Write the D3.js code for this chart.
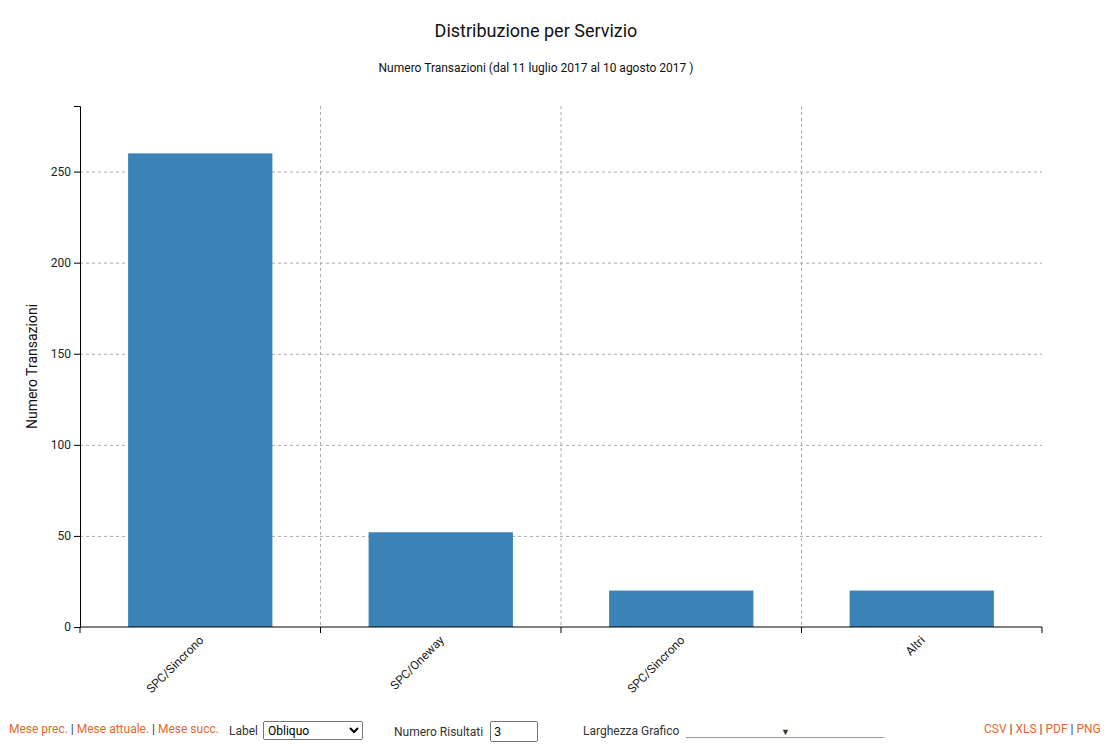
<!DOCTYPE html>
<html>
<meta charset="UTF-8">
<head>
<style>
body { margin:0; font-family: Roboto, sans-serif; background:#fff; }
.grid line { stroke:#aaa; stroke-dasharray:3,3; }
.grid .domain { display:none; }
.ctl { position:absolute; top:722px; font-size:12px; color:#333; }
.ctl a { color:#e8662a; text-decoration:none; }
</style>
</head>
<body>
<svg id="chart" width="1113" height="705"></svg>
<div class="ctl" style="left:9px"><a>Mese prec.</a> | <a>Mese attuale.</a> | <a>Mese succ.</a></div>
<div class="ctl" style="left:229px;top:721px">Label <select style="width:100px;height:19px;font-size:12px;font-family:Roboto;margin-left:2px"><option>Obliquo</option></select></div>
<div class="ctl" style="left:394px;top:721px">Numero Risultati <input type="number" value="3" style="width:40px;height:15px;font-size:12px;margin-left:4px"></div>
<div class="ctl" style="left:583px;top:724px">Larghezza Grafico <span style="display:inline-block;width:198px;border-bottom:1px solid #999;margin-left:4px;text-align:center;font-size:9px">&#9660;</span></div>
<div class="ctl" style="left:984px"><a>CSV</a> | <a>XLS</a> | <a>PDF</a> | <a>PNG</a></div>
<script src="https://d3js.org/d3.v7.min.js"></script>
<script>
const categories = ["SPC/Sincrono", "SPC/Oneway", "SPC/Sincrono ", "Altri"];
const values = [260, 52, 20, 20];
const yTicks = [0, 50, 100, 150, 200, 250];

const svg = d3.select("#chart");
const mLeft = 80, mRight = 1042, mTop = 106, mBottom = 627;

const x = d3.scaleBand().domain(categories).range([mLeft, mRight]).paddingInner(0.4).paddingOuter(0.2);
const y = d3.scaleLinear().domain([0, 286]).range([mBottom, mTop]);

// grid
svg.append("g").attr("class", "grid").attr("transform", `translate(${mLeft},0)`)
  .call(d3.axisLeft(y).tickValues(yTicks.slice(1)).tickSize(-(mRight - mLeft)).tickFormat(""));
const bounds = d3.range(1, categories.length).map(i => mLeft + i * (mRight - mLeft) / categories.length);
svg.append("g").attr("class", "grid").selectAll("line").data(bounds).join("line")
  .attr("x1", d => d).attr("x2", d => d).attr("y1", mTop).attr("y2", mBottom);

svg.append("g").selectAll("rect").data(values).join("rect")
  .attr("x", (d, i) => x(categories[i])).attr("width", x.bandwidth())
  .attr("y", d => y(d)).attr("height", d => mBottom - y(d)).attr("fill", "#3b82b6");

// y axis
svg.append("g").attr("transform", `translate(${mLeft},0)`)
  .call(d3.axisLeft(y).tickValues(yTicks).tickSizeOuter(6))
  .call(g => g.selectAll("text").attr("font-size", 12).attr("font-family", "Roboto").attr("fill", "#222"));

// x axis
const xa = svg.append("g").attr("transform", `translate(0,${mBottom})`);
xa.append("line").attr("x1", mLeft).attr("x2", mRight).attr("stroke", "#000");
xa.selectAll(".tk").data([mLeft, ...bounds, mRight]).join("line")
  .attr("x1", d => d).attr("x2", d => d).attr("y2", 6).attr("stroke", "#000");
xa.selectAll("text").data(categories).join("text")
  .attr("transform", d => `translate(${x(d) + x.bandwidth() / 2 + 4},${14}) rotate(-45)`)
  .attr("text-anchor", "end").attr("font-size", 12).attr("font-family", "Roboto").attr("fill", "#222")
  .text(d => d.trim());

svg.append("text").attr("x", 536).attr("y", 37).attr("text-anchor", "middle")
  .attr("font-size", 18).attr("fill", "#111").text("Distribuzione per Servizio");
svg.append("text").attr("x", 536).attr("y", 72).attr("text-anchor", "middle")
  .attr("font-size", 12).attr("fill", "#111").text("Numero Transazioni (dal 11 luglio 2017 al 10 agosto 2017 )");
svg.append("text").attr("transform", `translate(37,${(mTop + mBottom) / 2}) rotate(-90)`)
  .attr("text-anchor", "middle").attr("font-size", 14).attr("fill", "#111").text("Numero Transazioni");
</script>
</body>
</html>
